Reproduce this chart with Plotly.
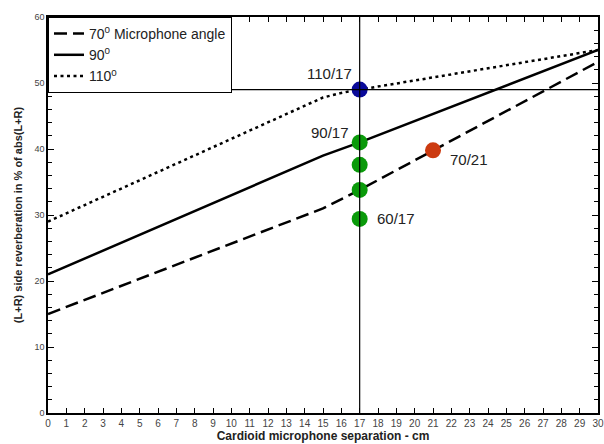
import plotly.graph_objects as go

sep_70 = [0, 15, 17, 21, 30]
rev_70 = [15, 31, 33.8, 39.8, 53.2]
sep_90 = [0, 15, 17, 30]
rev_90 = [21, 39, 41, 55]
sep_110 = [0, 15, 16, 17, 30]
rev_110 = [29, 47.8, 48.5, 49, 55]

green_x = [17, 17, 17, 17]
green_y = [41, 37.6, 33.8, 29.4]
blue_x, blue_y = [17], [49]
red_x, red_y = [21], [39.8]

ref_level = 49
ref_sep = 17

labels = [("110/17", 17, 49), ("90/17", 17, 41), ("70/21", 21, 39.8), ("60/17", 17, 29.4)]

fig = go.Figure()
fig.add_trace(go.Scatter(x=sep_70, y=rev_70, mode="lines", name="70<sup>0</sup> Microphone angle",
                         line=dict(color="black", width=2.5, dash="13px,6px")))
fig.add_trace(go.Scatter(x=sep_90, y=rev_90, mode="lines", name="90<sup>0</sup>",
                         line=dict(color="black", width=2.5)))
fig.add_trace(go.Scatter(x=sep_110, y=rev_110, mode="lines", name="110<sup>0</sup>",
                         line=dict(color="black", width=2.5, dash="3px,3.5px")))

fig.add_shape(type="line", x0=0, x1=30, y0=ref_level, y1=ref_level, xref="x", yref="y",
              line=dict(color="black", width=1.2))
fig.add_shape(type="line", x0=ref_sep, x1=ref_sep, y0=0, y1=60, xref="x", yref="y",
              line=dict(color="black", width=1.2))

fig.add_trace(go.Scatter(x=green_x, y=green_y, mode="markers", showlegend=False,
                         marker=dict(color="#0a9a0a", size=16)))
fig.add_trace(go.Scatter(x=blue_x, y=blue_y, mode="markers", showlegend=False,
                         marker=dict(color="#0a0a9a", size=16)))
fig.add_trace(go.Scatter(x=red_x, y=red_y, mode="markers", showlegend=False,
                         marker=dict(color="#cc3a10", size=16)))

offsets = {"110/17": (-30, -16), "90/17": (-30, -10), "70/21": (36, 9), "60/17": (36, 0)}
for t, x, y in labels:
    ax, ay = offsets[t]
    fig.add_annotation(x=x, y=y, text=t, showarrow=False, xshift=ax, yshift=-ay,
                       font=dict(family="Arial", size=15, color="#222"))

fig.update_layout(
    width=604, height=444,
    margin=dict(l=48, r=6, t=17, b=31),
    paper_bgcolor="white", plot_bgcolor="white",
    showlegend=True,
    legend=dict(x=0, y=1, xanchor="left", yanchor="top", bordercolor="black", borderwidth=1,
                bgcolor="white", font=dict(family="Arial", size=14, color="#222"),
                itemwidth=30, tracegroupgap=0),
    font=dict(family="Arial"),
)
fig.update_xaxes(range=[0, 30], dtick=1, ticks="inside", ticklen=5, tickcolor="black",
                 showline=True, linecolor="black", linewidth=1.5, mirror="ticks",
                 showgrid=False, zeroline=False, automargin=False, ticklabeloverflow="allow",
                 tickfont=dict(size=10, color="#444"),
                 title=dict(text="<b>Cardioid microphone separation - cm</b>", standoff=0,
                            font=dict(size=12, color="#222")))
fig.update_yaxes(range=[0, 60], dtick=10, ticks="inside", ticklen=6, tickcolor="black",
                 minor=dict(dtick=2, ticks="inside", ticklen=4, tickcolor="black"),
                 showline=True, linecolor="black", linewidth=1.5, mirror="ticks",
                 showgrid=False, zeroline=False, automargin=False, ticklabeloverflow="allow",
                 tickfont=dict(size=9, color="#444"),
                 title=dict(text="<b>(L+R) side reverberation in % of abs(L+R)</b>", standoff=10,
                            font=dict(size=11, color="#222")))

fig.write_html("out.html", config={"displayModeBar": False},
               post_script="document.body.style.margin='0';document.body.style.overflow='hidden';")
